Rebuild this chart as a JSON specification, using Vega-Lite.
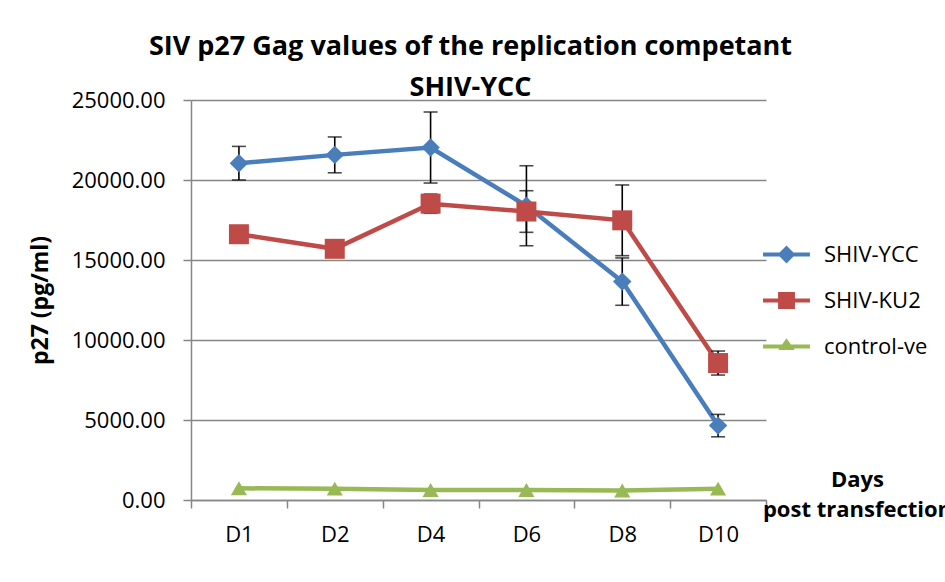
{
  "$schema": "https://vega.github.io/schema/vega-lite/v6.json",
  "autosize": "none",
  "width": 575,
  "height": 400,
  "padding": {"left": 191, "top": 100, "right": 179, "bottom": 82},
  "background": "white",
  "title": {
    "text": ["SIV p27 Gag values of the replication competant", "SHIV-YCC"],
    "font": "Open Sans",
    "fontSize": 27,
    "fontWeight": "bold",
    "color": "#000000",
    "anchor": "middle",
    "frame": "group",
    "lineHeight": 41,
    "offset": -13,
    "dx": -8
  },
  "data": {
    "values": [
      {"day": "D1", "series": "SHIV-YCC", "value": 21050, "err": 1050},
      {"day": "D2", "series": "SHIV-YCC", "value": 21570, "err": 1120},
      {"day": "D4", "series": "SHIV-YCC", "value": 22030, "err": 2220},
      {"day": "D6", "series": "SHIV-YCC", "value": 18390, "err": 2500},
      {"day": "D8", "series": "SHIV-YCC", "value": 13650, "err": 1480},
      {"day": "D10", "series": "SHIV-YCC", "value": 4650, "err": 700},
      {"day": "D1", "series": "SHIV-KU2", "value": 16610, "err": 300},
      {"day": "D2", "series": "SHIV-KU2", "value": 15700, "err": 300},
      {"day": "D4", "series": "SHIV-KU2", "value": 18520, "err": 600},
      {"day": "D6", "series": "SHIV-KU2", "value": 18030, "err": 1300},
      {"day": "D8", "series": "SHIV-KU2", "value": 17480, "err": 2210},
      {"day": "D10", "series": "SHIV-KU2", "value": 8560, "err": 750},
      {"day": "D1", "series": "control-ve", "value": 730, "err": 0},
      {"day": "D2", "series": "control-ve", "value": 710, "err": 0},
      {"day": "D4", "series": "control-ve", "value": 625, "err": 0},
      {"day": "D6", "series": "control-ve", "value": 625, "err": 0},
      {"day": "D8", "series": "control-ve", "value": 600, "err": 0},
      {"day": "D10", "series": "control-ve", "value": 710, "err": 0}
    ]
  },
  "encoding": {
    "x": {
      "field": "day",
      "type": "nominal",
      "sort": ["D1", "D2", "D4", "D6", "D8", "D10"],
      "scale": {"paddingInner": 0, "paddingOuter": 0},
      "axis": {
        "title": ["Days", "post transfection"],
        "titleX": 666,
        "titleY": -31,
        "titleAlign": "center",
        "titleBaseline": "top",
        "titleAngle": 0,
        "titleFontSize": 22,
        "titleFontWeight": "bold",
        "titleLineHeight": 30,
        "titleColor": "#000000",
        "labelAngle": 0,
        "labelFontSize": 22,
        "labelColor": "#000000",
        "labelPadding": 16,
        "tickBand": "extent",
        "tickSize": 8,
        "tickColor": "#868686",
        "tickWidth": 1.5,
        "domainColor": "#868686",
        "domainWidth": 1.5,
        "grid": false
      }
    },
    "y": {
      "field": "value",
      "type": "quantitative",
      "scale": {"domain": [0, 25000], "nice": false},
      "axis": {
        "title": "p27 (pg/ml)",
        "titleX": -151,
        "titleY": 200,
        "titleAlign": "center",
        "titleBaseline": "middle",
        "titleFontSize": 23,
        "titleFontWeight": "bold",
        "titleColor": "#000000",
        "values": [0, 5000, 10000, 15000, 20000, 25000],
        "format": ".2f",
        "labelFontSize": 22,
        "labelColor": "#000000",
        "labelPadding": 18,
        "tickSize": 8,
        "tickColor": "#868686",
        "tickWidth": 1.5,
        "domainColor": "#868686",
        "domainWidth": 1.5,
        "grid": true,
        "gridColor": "#868686",
        "gridWidth": 1.5
      }
    }
  },
  "layer": [
    {
      "mark": {"type": "point", "filled": true, "opacity": 0, "size": 1},
      "encoding": {
        "color": {
          "field": "series",
          "type": "nominal",
          "scale": {"domain": ["SHIV-YCC", "SHIV-KU2", "control-ve"], "range": ["#4A7EBB", "#BE4B48", "#98B954"]},
          "legend": {
            "title": null,
            "orient": "none",
            "legendX": 572,
            "legendY": 131,
            "symbolSize": 2200,
            "symbolOpacity": 1,
            "symbolStrokeWidth": 0,
            "labelFontSize": 22,
            "labelColor": "#000000",
            "labelOffset": 14,
            "rowPadding": 11
          }
        },
        "shape": {
          "field": "series",
          "type": "nominal",
          "scale": {
            "domain": ["SHIV-YCC", "SHIV-KU2", "control-ve"],
            "range": [
              "M-1,-0.085H-0.295L0,-0.38L0.295,-0.085H1V0.085H0.295L0,0.38L-0.295,0.085H-1Z",
              "M-1,-0.085H-0.36V-0.36H0.36V-0.085H1V0.085H0.36V0.36H-0.36V0.085H-1Z",
              "M-1,-0.085H-0.186L0,-0.35L0.186,-0.085H1V0.085H0.305L0.35,0.15H-0.35L-0.305,0.085H-1Z"
            ]
          },
          "legend": {
            "title": null,
            "orient": "none",
            "legendX": 572,
            "legendY": 131,
            "symbolSize": 2200,
            "symbolOpacity": 1,
            "symbolStrokeWidth": 0,
            "labelFontSize": 22,
            "labelColor": "#000000",
            "labelOffset": 14,
            "rowPadding": 11
          }
        }
      }
    },
    {
      "mark": {"type": "line", "strokeWidth": 4.5},
      "encoding": {
        "color": {"field": "series", "type": "nominal", "legend": null}
      }
    },
    {
      "transform": [{"filter": "datum.err > 0"}],
      "mark": {"type": "errorbar", "color": "#000000", "thickness": 1.6, "ticks": {"size": 14, "color": "#000000", "thickness": 1.6}},
      "encoding": {
        "y": {"field": "value", "type": "quantitative"},
        "yError": {"field": "err"},
        "detail": {"field": "series", "type": "nominal"}
      }
    },
    {
      "transform": [{"filter": "datum.series == 'SHIV-YCC'"}],
      "mark": {"type": "point", "shape": "diamond", "filled": true, "opacity": 1, "size": 340},
      "encoding": {"color": {"field": "series", "type": "nominal", "legend": null}}
    },
    {
      "transform": [{"filter": "datum.series == 'SHIV-KU2'"}],
      "mark": {"type": "point", "shape": "square", "filled": true, "opacity": 1, "size": 400},
      "encoding": {"color": {"field": "series", "type": "nominal", "legend": null}}
    },
    {
      "transform": [{"filter": "datum.series == 'control-ve'"}],
      "mark": {"type": "point", "shape": "triangle-up", "filled": true, "opacity": 1, "size": 260},
      "encoding": {"color": {"field": "series", "type": "nominal", "legend": null}}
    }
  ],
  "config": {
    "font": "Open Sans",
    "view": {"stroke": null},
    "axis": {"labelFont": "Open Sans", "titleFont": "Open Sans"},
    "legend": {"labelFont": "Open Sans"}
  }
}
